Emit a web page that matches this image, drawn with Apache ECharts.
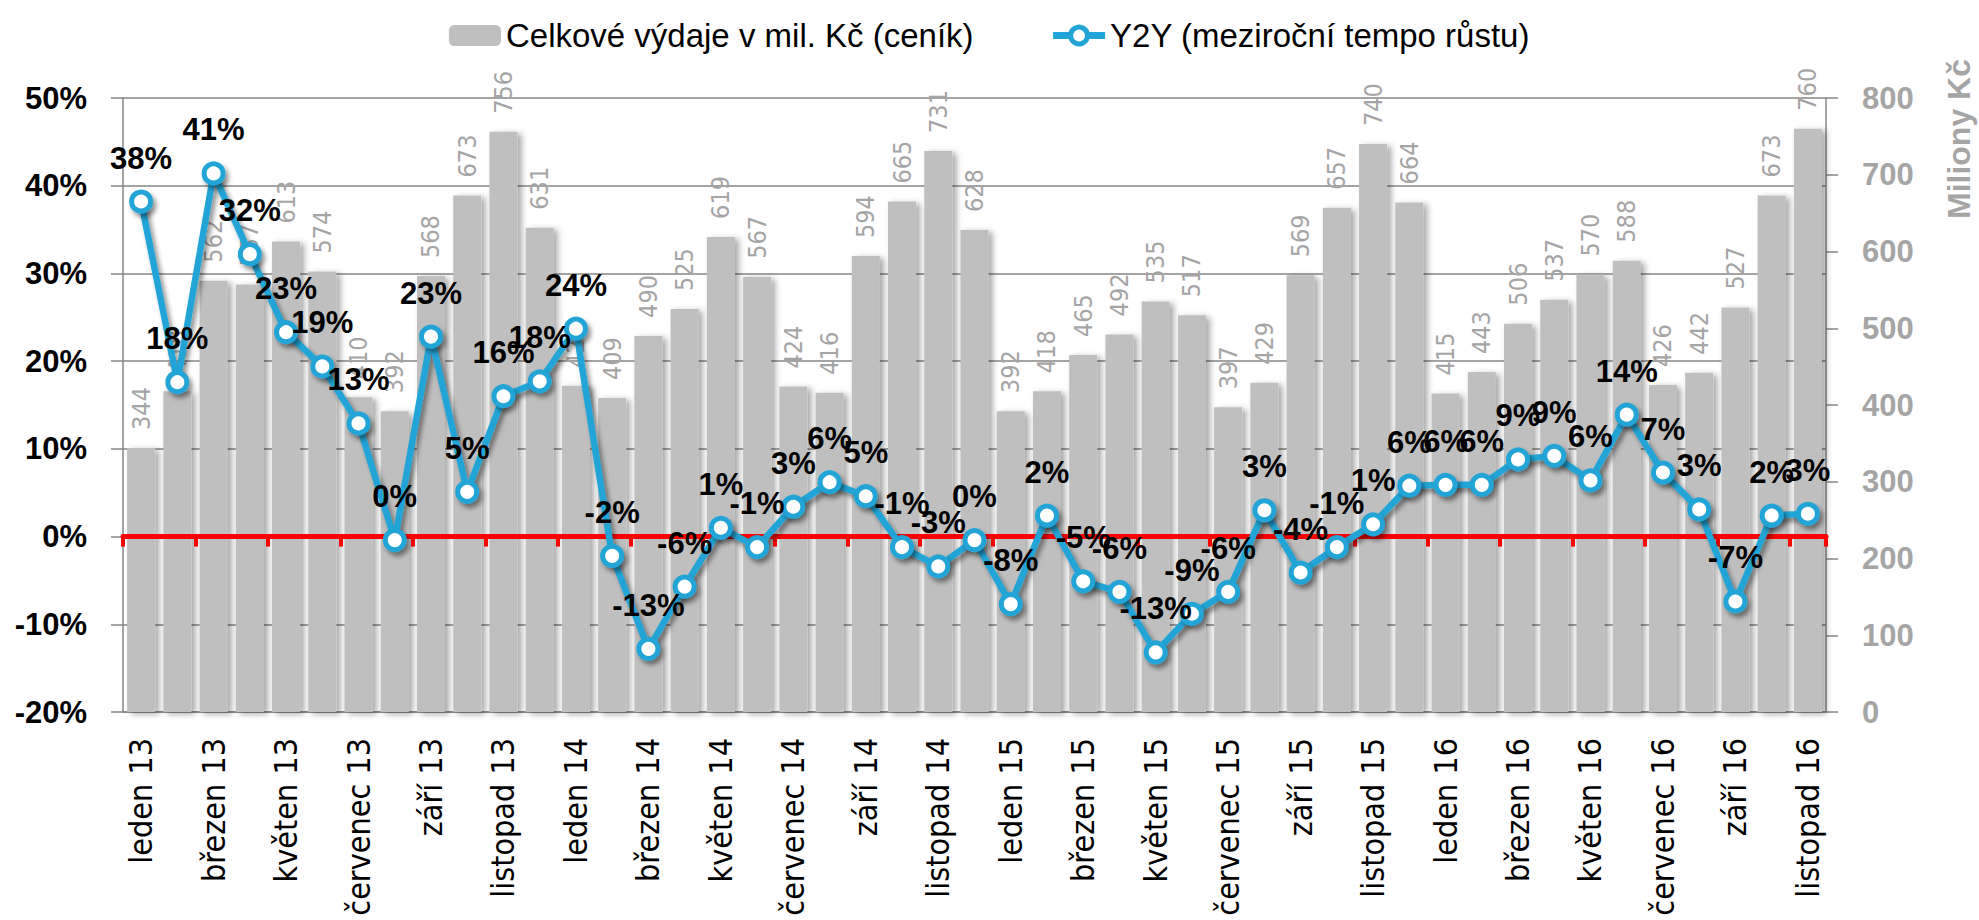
<!DOCTYPE html>
<html>
<head>
<meta charset="utf-8">
<script src="https://cdn.jsdelivr.net/npm/echarts@6/dist/echarts.min.js"></script>
<style>
  html, body { margin: 0; padding: 0; background: #ffffff; }
  #chart { width: 1979px; height: 920px; }
</style>
</head>
<body>
<div id="chart"></div>
<script>
// ---- data ----
const monthNames = ['leden','únor','březen','duben','květen','červen','červenec','srpen','září','říjen','listopad','prosinec'];
const yearLabels = ['13','14','15','16'];
const monthCount = 47; // leden 13 .. listopad 16

const spending = [
  344, 418, 562, 557, 613, 574, 410, 392, 568, 673, 756, 631,
  425, 409, 490, 525, 619, 567, 424, 416, 594, 665, 731, 628,
  392, 418, 465, 492, 535, 517, 397, 429, 569, 657, 740, 664,
  415, 443, 506, 537, 570, 588, 426, 442, 527, 673, 760
];

const yoy = [
  38.2, 17.6, 41.4, 32.2, 23.3, 19.4, 12.9, -0.4, 22.8, 5.1, 16.0, 17.7,
  23.7, -2.2, -12.8, -5.7, 1.0, -1.2, 3.4, 6.2, 4.6, -1.2, -3.4, -0.4,
  -7.7, 2.4, -5.1, -6.3, -13.2, -8.8, -6.3, 3.0, -4.1, -1.2, 1.4, 5.8,
  5.9, 5.9, 8.8, 9.2, 6.4, 13.9, 7.3, 3.1, -7.4, 2.4, 2.6
];

const leftTicks = { min: -20, max: 50, step: 10 };
const rightTicks = { min: 0, max: 800, step: 100 };

const barName = 'Celkové výdaje v mil. Kč (ceník)';
const lineName = 'Y2Y (meziroční tempo růstu)';
const rightAxisTitle = 'Miliony Kč';

const categories = [];
for (const y of yearLabels) for (const m of monthNames) categories.push(m + ' ' + y);
categories.length = monthCount;

// ---- chart ----
const BLUE = '#22A5D6';
const GRID = '#868686';
const GREYTXT = '#A5A5A5';

const chart = echarts.init(document.getElementById('chart'), null, { renderer: 'svg' });
chart.setOption({
  backgroundColor: '#ffffff',
  animation: false,
  legend: {
    top: 14,
    left: 'center',
    itemWidth: 52,
    itemHeight: 21,
    itemGap: 76,
    textStyle: { fontSize: 33, fontFamily: 'Liberation Sans', color: '#000' },
    data: [
      { name: barName },
      {
        name: lineName,
        lineStyle: { width: 7, color: BLUE },
        itemStyle: { color: '#FFFFFF', borderColor: BLUE, borderWidth: 5 }
      }
    ]
  },
  grid: { left: 123, right: 153, top: 98, bottom: 208, containLabel: false, outerBoundsMode: 'none' },
  xAxis: [
    {
      type: 'category',
      data: categories,
      position: 'bottom',
      boundaryGap: true,
      axisLine: { show: true, onZero: false, lineStyle: { color: GRID, width: 1.5 } },
      axisTick: { show: false },
      axisLabel: {
        interval: 1, rotate: 90, margin: 26,
        fontSize: 32, fontFamily: 'DejaVu Sans Condensed', color: '#000'
      },
      splitLine: { show: false }
    },
    {
      type: 'category',
      data: categories,
      position: 'bottom',
      boundaryGap: true,
      z: 3,
      axisLine: { show: true, onZero: true, onZeroAxisIndex: 0, lineStyle: { color: '#FF0000', width: 5 } },
      axisTick: { show: true, interval: 1, length: 10, inside: false, lineStyle: { color: '#FF0000', width: 4 } },
      axisLabel: { show: false },
      splitLine: { show: false }
    }
  ],
  yAxis: [
    {
      type: 'value',
      position: 'left',
      min: leftTicks.min, max: leftTicks.max, interval: leftTicks.step,
      axisLine: { show: true, lineStyle: { color: GRID, width: 1.5 } },
      axisTick: { show: true, length: 12, lineStyle: { color: GRID, width: 1.5 } },
      axisLabel: {
        formatter: '{value}%', margin: 36,
        fontSize: 31, fontWeight: 'bold', fontFamily: 'Liberation Sans', color: '#000'
      },
      splitLine: { show: true, lineStyle: { color: GRID, width: 1.5 } }
    },
    {
      type: 'value',
      position: 'right',
      min: rightTicks.min, max: rightTicks.max, interval: rightTicks.step,
      axisLine: { show: true, lineStyle: { color: GRID, width: 1.5 } },
      axisTick: { show: true, length: 12, lineStyle: { color: GRID, width: 1.5 } },
      axisLabel: {
        margin: 36,
        fontSize: 31, fontWeight: 'bold', fontFamily: 'Liberation Sans', color: GREYTXT
      },
      splitLine: { show: false }
    }
  ],
  graphic: [
    {
      type: 'text',
      x: 1959, y: 139,
      rotation: Math.PI / 2,
      style: {
        text: rightAxisTitle,
        fill: GREYTXT,
        font: 'bold 32px "Liberation Sans"',
        textAlign: 'center',
        textVerticalAlign: 'middle'
      }
    }
  ],
  series: [
    {
      name: barName,
      type: 'bar',
      xAxisIndex: 0,
      yAxisIndex: 1,
      data: spending,
      barWidth: 28,
      z: 2,
      itemStyle: {
        color: '#BFBFBF',
        shadowColor: 'rgba(0,0,0,0.35)',
        shadowBlur: 6,
        shadowOffsetX: 4,
        shadowOffsetY: 2
      },
      label: {
        show: true,
        position: 'top',
        rotate: 90,
        align: 'left',
        verticalAlign: 'middle',
        distance: 18,
        fontSize: 25,
        fontFamily: 'DejaVu Sans Condensed',
        color: GREYTXT
      }
    },
    {
      name: lineName,
      type: 'line',
      xAxisIndex: 0,
      yAxisIndex: 0,
      data: yoy,
      z: 4,
      color: BLUE,
      symbol: 'circle',
      symbolSize: 19,
      itemStyle: {
        color: '#FFFFFF',
        borderColor: BLUE,
        borderWidth: 5,
        shadowColor: 'rgba(0,0,0,0.45)',
        shadowBlur: 5,
        shadowOffsetX: 3,
        shadowOffsetY: 4
      },
      lineStyle: {
        color: BLUE,
        width: 6.5,
        shadowColor: 'rgba(0,0,0,0.45)',
        shadowBlur: 5,
        shadowOffsetX: 3,
        shadowOffsetY: 4
      },
      label: {
        show: true,
        position: 'top',
        distance: 16,
        formatter: (p) => String(Math.round(p.value)) + '%',
        fontSize: 31,
        fontWeight: 'bold',
        fontFamily: 'Liberation Sans',
        color: '#000'
      }
    }
  ]
});
</script>
</body>
</html>
